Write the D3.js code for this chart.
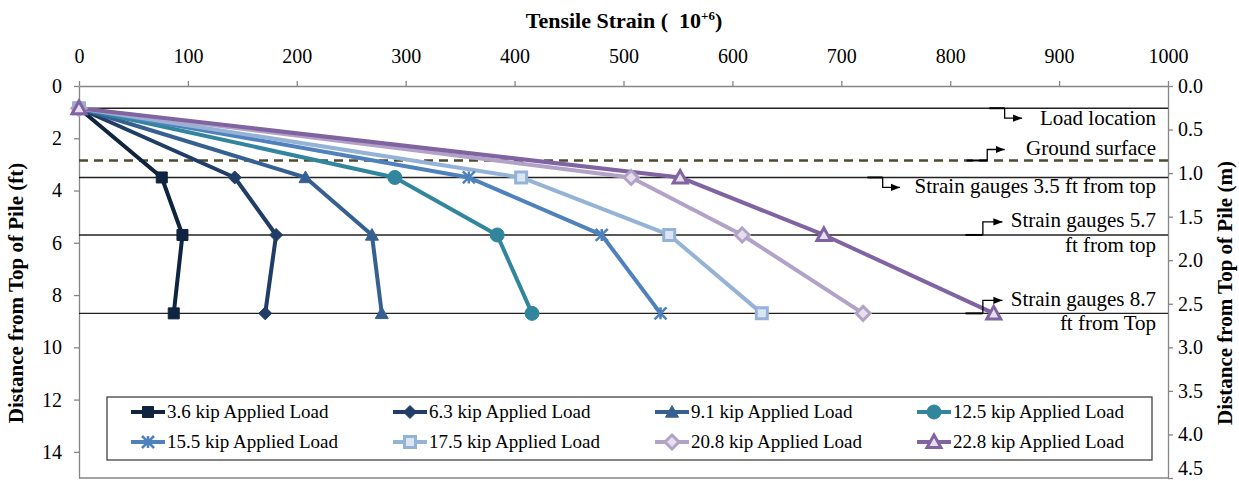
<!DOCTYPE html>
<html>
<head>
<meta charset="utf-8">
<script src="https://cdn.jsdelivr.net/npm/d3@7"></script>
<style>
  body { margin: 0; background: #fff; }
  svg text { font-family: "Liberation Serif", "Times New Roman", serif; fill: #000; }
</style>
</head>
<body>
<svg id="chart" width="1239" height="481"></svg>
<script>
// depths of the load point and the three gauge levels (ft from top of pile)
var depthsFt = [0.85, 3.5, 5.7, 8.7];

var loadLabels = ["3.6 kip Applied Load", "6.3 kip Applied Load", "9.1 kip Applied Load", "12.5 kip Applied Load",
                  "15.5 kip Applied Load", "17.5 kip Applied Load", "20.8 kip Applied Load", "22.8 kip Applied Load"];

// tensile strain (x 10^-6) at each depth, one array per load
var strain36 = [0, 76, 95, 87];
var strain63 = [0, 143, 181, 171];
var strain91 = [0, 208, 269, 278];
var strain125 = [0, 290, 384, 416];
var strain155 = [0, 358, 480, 534];
var strain175 = [0, 406, 542, 627];
var strain208 = [0, 507, 609, 720];
var strain228 = [0, 552, 684, 840];

var xTicks = [0, 100, 200, 300, 400, 500, 600, 700, 800, 900, 1000];
var ftTicks = [0, 2, 4, 6, 8, 10, 12, 14];
var mTicks = [0, 0.5, 1, 1.5, 2, 2.5, 3, 3.5, 4, 4.5];

var refDepths = [0.85, 2.85, 3.5, 5.7, 8.7];
var refLabels = [["Load location"], ["Ground surface"], ["Strain gauges 3.5 ft from top"],
                 ["Strain gauges 5.7", "ft from top"], ["Strain gauges 8.7", "ft from Top"]];

var series = [strain36, strain63, strain91, strain125, strain155, strain175, strain208, strain228];
var colors = ["#0F243E", "#1F3D66", "#376092", "#31859C", "#4F81BD", "#95B3D7", "#B3A2C7", "#8064A2"];
var markerStyle = [
  {type: "square", r: 5.5, fill: true},
  {type: "diamond", r: 6.5, fill: true},
  {type: "triangle", r: 6.5, fill: true},
  {type: "circle", r: 7, fill: true},
  {type: "star", r: 6, fill: false},
  {type: "square", r: 5.5, fill: false, inner: "#DCE6F2"},
  {type: "diamond", r: 7, fill: false, inner: "#E6E0EC"},
  {type: "triangle", r: 7, fill: false, inner: "#E6E0EC"}
];

var svg = d3.select("#chart");
var pL = 79, pR = 1168, pT = 86, pB = 478;

var x = d3.scaleLinear().domain([0, 1000]).range([pL, pR]);
var y = d3.scaleLinear().domain([0, 15]).range([pT, pB]);
var yM = d3.scaleLinear().domain([0, 4.5]).range([pT, pB]);

function markerPath(t, r) {
  if (t === "square") return "M" + (-r) + "," + (-r) + "h" + (2 * r) + "v" + (2 * r) + "h" + (-2 * r) + "Z";
  if (t === "diamond") return "M0," + (-r) + "L" + r + ",0L0," + r + "L" + (-r) + ",0Z";
  if (t === "triangle") return "M0," + (-r) + "L" + r + "," + (r * 0.8) + "L" + (-r) + "," + (r * 0.8) + "Z";
  if (t === "circle") return d3.arc()({innerRadius: 0, outerRadius: r, startAngle: 0, endAngle: 2 * Math.PI});
  if (t === "star") return "M" + (-r) + "," + (-r) + "L" + r + "," + r + "M" + r + "," + (-r) + "L" + (-r) + "," + r + "M0," + (-r) + "L0," + r;
}

function drawMarker(g, i, cx, cy) {
  var m = markerStyle[i];
  var p = g.append("path")
    .attr("transform", "translate(" + cx + "," + cy + ")")
    .attr("d", markerPath(m.type, m.r));
  if (m.type === "star") {
    p.attr("fill", "none").attr("stroke", colors[i]).attr("stroke-width", 2.5);
  } else if (m.fill) {
    p.attr("fill", colors[i]).attr("stroke", colors[i]).attr("stroke-width", 1);
  } else {
    p.attr("fill", m.inner).attr("stroke", colors[i]).attr("stroke-width", 3);
  }
}

// axes
var gx = svg.append("g").attr("transform", "translate(0," + pT + ")")
  .call(d3.axisTop(x).tickValues(xTicks).tickFormat(d3.format("d")).tickSize(5).tickSizeOuter(0).tickPadding(18));
var gl = svg.append("g").attr("transform", "translate(" + pL + ",0)")
  .call(d3.axisLeft(y).tickValues(ftTicks).tickSize(5).tickSizeOuter(0).tickPadding(12));
var gr = svg.append("g").attr("transform", "translate(" + pR + ",0)")
  .call(d3.axisRight(yM).tickValues(mTicks).tickFormat(d3.format(".1f")).tickSize(5).tickSizeOuter(0).tickPadding(5));
[gx, gl, gr].forEach(function(g) {
  g.selectAll("path, line").attr("stroke", "#868686").attr("stroke-width", 1.3);
  g.selectAll("text").style("font-size", "20px").attr("fill", "#000")
    .style("font-family", "'Liberation Serif', 'Times New Roman', serif");
});
// last metre label sits at the bottom edge, nudge it up like the original
gr.selectAll(".tick").filter(function(d) { return d === 4.5; }).select("text").attr("y", -10);
svg.append("line").attr("x1", pL).attr("x2", pR).attr("y1", pB).attr("y2", pB)
  .attr("stroke", "#868686").attr("stroke-width", 1.3);

// titles
var title = svg.append("text").attr("x", 624).attr("y", 28).attr("text-anchor", "middle")
  .style("font-size", "22px").style("font-weight", "bold").style("white-space", "pre");
title.append("tspan").text("Tensile Strain (  10");
title.append("tspan").attr("dy", -8).style("font-size", "13px").text("+6");
title.append("tspan").attr("dy", 8).text(")");

svg.append("text").attr("transform", "translate(23,293) rotate(-90)").attr("text-anchor", "middle")
  .style("font-size", "21px").style("font-weight", "bold").text("Distance from Top of Pile (ft)");
svg.append("text").attr("transform", "translate(1232,293) rotate(-90)").attr("text-anchor", "middle")
  .style("font-size", "21px").style("font-weight", "bold").text("Distance from Top of Pile (m)");

// reference lines
refDepths.forEach(function(d, i) {
  var ln = svg.append("line").attr("x1", pL).attr("x2", pR).attr("y1", y(d)).attr("y2", y(d));
  if (i === 1) ln.attr("stroke", "#4F4A30").attr("stroke-width", 2.5).attr("stroke-dasharray", "9,6");
  else ln.attr("stroke", "#222").attr("stroke-width", 1.4);
});

// series
var line = d3.line().x(function(d) { return x(d[0]); }).y(function(d) { return y(d[1]); });
series.forEach(function(vals, i) {
  var pts = vals.map(function(v, k) { return [v, depthsFt[k]]; });
  svg.append("path").attr("d", line(pts)).attr("fill", "none")
    .attr("stroke", colors[i]).attr("stroke-width", 4).attr("stroke-linejoin", "round");
});
series.forEach(function(vals, i) {
  var g = svg.append("g");
  vals.forEach(function(v, k) { drawMarker(g, i, x(v), y(depthsFt[k])); });
});

// annotation connectors (strain units for x)
var connectors = [
  {x0: 836, x1: 850, x2: 866, dy: 10},
  {x0: 815, x1: 834, x2: 850, dy: -11},
  {x0: 724, x1: 738, x2: 754, dy: 10},
  {x0: 814, x1: 830, x2: 848, dy: -13},
  {x0: 814, x1: 830, x2: 848, dy: -13}
];
var labelDy = [[17], [-5], [16], [-8, 17], [-7, 17]];
svg.append("defs").append("marker").attr("id", "arrow").attr("viewBox", "0 0 10 10")
  .attr("refX", 10).attr("refY", 5).attr("markerWidth", 7).attr("markerHeight", 7).attr("orient", "auto")
  .append("path").attr("d", "M0,1L10,5L0,9Z").attr("fill", "#000");

refDepths.forEach(function(d, i) {
  var c = connectors[i], yy = y(d);
  svg.append("line").attr("x1", x(c.x0)).attr("x2", x(c.x1)).attr("y1", yy).attr("y2", yy)
    .attr("stroke", "#000").attr("stroke-width", 2);
  svg.append("path").attr("d", "M" + x(c.x1) + "," + yy + "V" + (yy + c.dy) + "H" + x(c.x2))
    .attr("fill", "none").attr("stroke", "#000").attr("stroke-width", 1.3).attr("marker-end", "url(#arrow)");
  refLabels[i].forEach(function(t, k) {
    svg.append("text").attr("x", x(989)).attr("y", yy + labelDy[i][k]).attr("text-anchor", "end")
      .style("font-size", "21px").text(t);
  });
});

// legend
var lg = svg.append("g");
lg.append("rect").attr("x", 107).attr("y", 397).attr("width", 1045).attr("height", 63)
  .attr("fill", "#fff").attr("stroke", "#333").attr("stroke-width", 1.2);
loadLabels.forEach(function(name, i) {
  var col = i % 4, row = Math.floor(i / 4);
  var lx = 131 + col * 262, ly = 412 + row * 30;
  lg.append("line").attr("x1", lx).attr("x2", lx + 34).attr("y1", ly).attr("y2", ly)
    .attr("stroke", colors[i]).attr("stroke-width", 4);
  drawMarker(lg, i, lx + 17, ly);
  lg.append("text").attr("x", lx + 36).attr("y", ly + 6).style("font-size", "19px").text(name);
});
</script>
</body>
</html>
